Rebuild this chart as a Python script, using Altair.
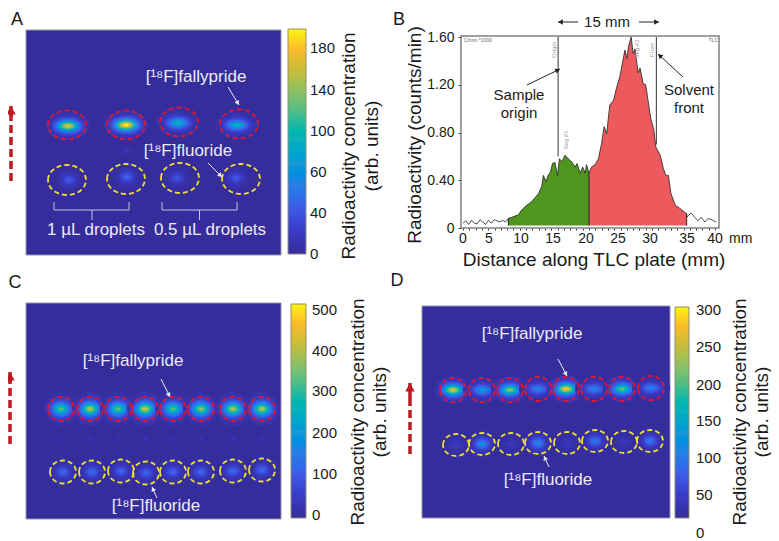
import math
import altair as alt
import pandas as pd

FONT = "Liberation Sans"
PARULA = ["#352d9c", "#3a3cc8", "#3f5ce8", "#2a7ee6", "#1a9ad8", "#10b0bc",
          "#35bc94", "#84c06c", "#c4bd3f", "#f9bb2c", "#f8f80f"]
BLOB_LEVELS = [.05, .12, .2, .3, .4, .5, .6, .7, .8, .9, 1.0]
BLOB_RADII = [1, .8, .68, .58, .5, .43, .37, .31, .25, .18, .1]

# --- panel B: TLC trace (mm, counts/min x 1000) ---
noise_left_x = [0, .45, .9, 1.35, 1.8, 2.25, 2.7, 3.15, 3.6, 4.05, 4.5, 4.95, 5.4, 5.85, 6.3, 6.75, 7.2]
noise_left_y = [.04, .06, .03, .065, .04, .035, .07, .05, .03, .065, .04, .07, .06, .05, .065, .05, .08]
green_x = [7.2, 8.8, 9.3, 10.1, 10.9, 12, 12.5, 12.75, 13.2, 13.5, 13.9, 14.2, 14.6, 15, 15.3, 15.7,
           16.2, 16.7, 17.25, 17.8, 18.1, 18.6, 19, 19.4, 19.6, 20]
green_y = [.08, .11, .15, .19, .22, .29, .35, .44, .39, .44, .47, .54, .55, .44, .58, .555,
           .61, .58, .555, .51, .54, .46, .51, .46, .53, .46]
red_x = [20, 20.4, 20.95, 21.5, 22, 22.4, 22.8, 23.3, 23.9, 24.4, 24.9, 25.4, 25.7, 26, 26.3, 26.7, 27, 27.3,
         27.8, 28.1, 28.6, 29, 29.4, 29.8, 30.3, 30.6, 31.3, 31.8, 32.2, 32.6, 33, 33.7, 34.4, 35.5]
red_y = [.46, .51, .53, .58, .71, .85, .79, 1.03, 1.07, 1.18, 1.27, 1.41, 1.49, 1.42, 1.53, 1.60, 1.46, 1.50,
         1.30, 1.34, 1.21, 1.20, 1.06, .92, .82, .68, .61, .50, .44, .44, .29, .19, .165, .12]
noise_right_x = [35.5, 36.2, 36.8, 37.3, 37.8, 38.4, 38.9, 39.4, 40.2]
noise_right_y = [.09, .125, .09, .06, .09, .05, .08, .07, .05]

# --- panel A droplets ---
a_red_x = [67, 126, 179, 239]
a_red_y = [125, 125, 122, 124]
a_yel_x = [67, 126, 180, 241]
a_yel_y = [180, 179, 178, 179]
a_hot_x = [68, 126, 178, 237]
a_hot_y = [126, 125, 123, 125]
a_hot_v = [165, 190, 95, 95]
a_cold_x = [69, 127, 177, 236]
a_cold_y = [180, 177, 178, 178]
a_cold_v = [38, 42, 34, 36]

# --- panel C droplets ---
c_red_x = [61, 90, 118, 145, 173, 201, 233, 262]
c_red_y = [409] * 8
c_yel_x = [63, 92, 121, 146, 173, 201, 233, 262]
c_yel_y = [472, 472, 471, 473, 472, 472, 471, 470]
c_hot_v = [330, 400, 340, 420, 330, 370, 400, 400]
c_cold_v = [120, 125, 115, 115, 115, 115, 125, 125]
c_ghost_v = [25, 30, 25, 35, 30, 30, 35, 30]

# --- panel D droplets ---
d_red_x = [453, 482, 510, 538, 566, 594, 622, 651]
d_red_y = [390, 390, 390, 389, 389, 389, 389, 388]
d_yel_x = [456, 482, 511, 538, 567, 595, 624, 650]
d_yel_y = [445, 444, 444, 443, 443, 441, 442, 441]
d_hot_v = [265, 125, 225, 100, 280, 100, 205, 95]
d_cold_v = [28, 110, 22, 100, 22, 85, 22, 85]

cx = alt.Scale(domain=[8, 771], range=[0, 763])
cy = alt.Scale(domain=[8, 540], range=[0, 532])
X = alt.X("x:Q", scale=cx, axis=None)
Y = alt.Y("y:Q", scale=cy, axis=None)


def color_scale(vmax):
    n = len(PARULA)
    return alt.Scale(domain=[vmax * i / (n - 1) for i in range(n)], range=PARULA, clamp=True)


def ellipse(ratio):
    return f"M-1,0A1,{ratio:.3f},0,1,1,1,0A1,{ratio:.3f},0,1,1,-1,0Z"


def rects(rows, **mark):
    df = pd.DataFrame(rows, columns=["x", "y", "x2", "y2"])
    return alt.Chart(df).mark_rect(**mark).encode(X, Y, x2="x2:Q", y2="y2:Q")


def image_bg(x0, y0, x1, y1, vmax):
    df = pd.DataFrame([dict(x=x0, y=y0, x2=x1, y2=y1, v=0)])
    return alt.Chart(df).mark_rect(stroke="#8f92a8", strokeWidth=1).encode(
        X, Y, x2="x2:Q", y2="y2:Q",
        fill=alt.Fill("v:Q", scale=color_scale(vmax), legend=None))


def blobs(xs, ys, vs, w, h, vmax):
    rows = []
    for px, py, v in zip(xs, ys, vs):
        for lv, rd in zip(BLOB_LEVELS, BLOB_RADII):
            # inner contours flatten horizontally, as in the hot spots
            ratio = (h / w) * (0.6 + 0.4 * rd)
            rows.append(dict(x=px, y=py, v=v * lv, area=(w * rd) ** 2, path=ellipse(ratio)))
    df = pd.DataFrame(rows)
    return alt.Chart(df).mark_point(filled=True, opacity=1, strokeWidth=0).encode(
        X, Y,
        fill=alt.Fill("v:Q", scale=color_scale(vmax), legend=None),
        shape=alt.Shape("path:N", scale=None),
        size=alt.Size("area:Q", scale=None),
    )


def rings(xs, ys, w, h, color):
    df = pd.DataFrame(dict(x=xs, y=ys))
    df["area"] = w * w
    df["path"] = ellipse(h / w)
    return alt.Chart(df).mark_point(filled=False, opacity=1, stroke=color, strokeWidth=1.8,
                                    strokeDash=[5, 3]).encode(
        X, Y, shape=alt.Shape("path:N", scale=None), size=alt.Size("area:Q", scale=None))


def colorbar(x0, x1, y0, y1, vmax):
    n = 80
    rows = []
    for i in range(n):
        rows.append(dict(x=x0, x2=x1, v=vmax * i / n, v2=vmax * min(i + 2, n) / n))
    df = pd.DataFrame(rows)
    ys = alt.Scale(domain=[0, vmax], range=[y1 - 8, y0 - 8])
    bar = alt.Chart(df).mark_rect().encode(
        X, x2="x2:Q",
        y=alt.Y("v:Q", scale=ys, axis=None), y2="v2:Q",
        fill=alt.Fill("v:Q", scale=color_scale(vmax), legend=None))
    frame = rects([(x0, y0, x1, y1)], fill=None, stroke="#8f8f70", strokeWidth=1)
    return [bar, frame]


def texts(rows, size, color="#1a1a1a", angle=0, align="center"):
    df = pd.DataFrame(rows, columns=["x", "y", "t"])
    return alt.Chart(df).mark_text(font=FONT, fontSize=size, color=color, angle=angle,
                                   align=align, baseline="middle").encode(X, Y, text="t:N")


def lines(rows, color, width, dash=None):
    df = pd.DataFrame(rows, columns=["x", "y", "x2", "y2"])
    kw = dict(strokeDash=dash) if dash else {}
    return alt.Chart(df).mark_rule(color=color, strokeWidth=width, **kw).encode(X, Y, x2="x2:Q", y2="y2:Q")


def arrows(rows, color, width, head):
    out = [lines(rows, color, width)]
    pts = []
    for x0, y0, x1, y1 in rows:
        a = math.atan2(x1 - x0, -(y1 - y0))
        back = math.sqrt(head) * 0.45
        pts.append(dict(x=x1 - back * math.sin(a), y=y1 + back * math.cos(a),
                        ang=(math.degrees(a) + 360) % 360))
    out.append(alt.Chart(pd.DataFrame(pts)).mark_point(
        filled=True, opacity=1, color=color, shape="triangle-up", size=head).encode(
        X, Y, angle=alt.Angle("ang:Q", scale=None)))
    return out


WHITE = "#eceaf6"
DARKRED = "#bd1a22"
layers = []

# ---------- panel A ----------
layers += [image_bg(26, 30, 281, 255, 190)]
layers += [blobs([127], [151], [12], 20, 16, 190)]
layers += [blobs(a_cold_x, a_cold_y, a_cold_v, 30, 30, 190)]
layers += [blobs(a_hot_x, a_hot_y, a_hot_v, 44, 28, 190)]
layers += [rings(a_red_x, a_red_y, 38, 29, "#e2162e"), rings(a_yel_x, a_yel_y, 38, 30, "#f0e030")]
layers += colorbar(288, 306, 29, 254, 190)
layers += [texts([(310, 254, "0"), (310, 213, "40"), (310, 172, "60"), (310, 131, "100"),
                  (310, 90, "140"), (310, 48, "180")], 15, align="left")]
layers += [texts([(349, 146, "Radioactivity concentration"), (372, 146, "(arb. units)")], 19, angle=270)]
layers += [texts([(196, 77, "[¹⁸F]fallypride"), (188, 151, "[¹⁸F]fluoride"),
                  (96, 230, "1 µL droplets"), (210, 230, "0.5 µL droplets")], 17, color=WHITE)]
layers += arrows([(228, 87, 239, 105), (208, 163, 222, 177)], WHITE, 1, 25)
layers += [lines([(54, 202, 54, 210), (54, 210, 129, 210), (129, 202, 129, 210), (92, 210, 92, 220),
                  (162, 202, 162, 210), (162, 210, 237, 210), (237, 202, 237, 210), (199.5, 210, 199.5, 220)],
                 "#c4c4e4", 1)]
layers += [lines([(11, 181, 11, 114)], DARKRED, 3.5, dash=[8, 4])]
layers += arrows([(11, 116, 11, 106)], DARKRED, 3.5, 90)
layers += [texts([(17, 20, "A"), (399, 20, "B"), (15, 283, "C"), (397, 281, "D")], 18)]

# ---------- panel B ----------
bx = alt.Scale(domain=[0, 40], range=[455, 707])
by = alt.Scale(domain=[0, 1.6], range=[220, 29])
BX = alt.X("mm:Q", scale=bx, axis=None)
BY = alt.Y("cpm:Q", scale=by, axis=None)


def area(xs, ys, color):
    df = pd.DataFrame(dict(mm=xs, cpm=ys, base=[0.02] * len(xs)))
    return alt.Chart(df).mark_area(color=color, opacity=1).encode(BX, BY, y2="base:Q")


all_x = noise_left_x + green_x + red_x[1:] + noise_right_x
all_y = noise_left_y + green_y + red_y[1:] + noise_right_y
trace = alt.Chart(pd.DataFrame(dict(mm=all_x, cpm=all_y))).mark_line(color="#222222", strokeWidth=0.8).encode(BX, BY)
layers += [area(green_x, green_y, "#4f961f"), area(red_x, red_y, "#ec5a5e"), trace]
edges = pd.DataFrame(dict(mm=[7.2, 20, 35.5], cpm=[.08, .46, .12], base=[.02, .02, .02]))
layers += [alt.Chart(edges).mark_rule(color="#222222", strokeWidth=1).encode(BX, BY, y2="base:Q")]
layers += [rects([(461, 36, 719, 228)], fill=None, stroke="#808080", strokeWidth=1.5)]
layers += [alt.Chart(pd.DataFrame(dict(mm=[15.1, 30.7], cpm=[.6, .7], top=[1.6, 1.6]))).mark_rule(
    color="#555555", strokeWidth=1.2).encode(BX, BY, y2="top:Q")]

tick_x = alt.Chart(pd.DataFrame(dict(mm=[0, 40], cpm=[0, 0]))).mark_point(opacity=0).encode(
    x=alt.X("mm:Q", scale=bx, axis=alt.Axis(orient="bottom", offset=-312, values=list(range(0, 41)),
                                            labels=False, domain=False, grid=False, title=None,
                                            tickSize=2, tickColor="#333333")),
    y=alt.Y("cpm:Q", scale=by, axis=alt.Axis(orient="left", offset=-453, values=[0, .4, .8, 1.2, 1.6],
                                             labelExpr="datum.value==0?'0':format(datum.value,'.2f')",
                                             labelFont=FONT, labelFontSize=14, labelColor="#1a1a1a",
                                             labelPadding=4, domain=False, grid=False, title=None,
                                             tickSize=3, tickColor="#333333")))
layers += [tick_x]

layers += [texts([(463, 239, "0"), (489, 239, "5"), (521, 239, "10"), (553, 239, "15"), (586, 239, "20"),
                  (618, 239, "25"), (650, 239, "30"), (687, 239, "35"), (715, 239, "40")], 14)]
layers += [texts([(729, 239, "mm")], 14, align="left")]
layers += [texts([(594, 260, "Distance along TLC plate (mm)")], 19)]
layers += [texts([(415, 135, "Radioactivity (counts/min)")], 19, angle=270)]
layers += [texts([(607, 22, "15 mm"), (519, 95, "Sample"), (519, 113, "origin"),
                  (689, 90, "Solvent"), (689, 108, "front")], 15)]
layers += arrows([(578, 22, 558, 22), (639, 22, 659, 22), (527, 85, 560, 69), (683, 77, 658, 54)], "#222222", 1, 30)
layers += [texts([(464, 40, "C/mm *1000")], 5, color="#666666", align="left"),
           texts([(718, 40, "TLC")], 5, color="#666666", align="right"),
           texts([(554, 50, "Origin"), (566, 140, "Seg #1"), (637, 49, "Seg #2"), (652, 50, "Front")],
                 6, color="#999999", angle=270)]

# ---------- panel C ----------
layers += [image_bg(26, 303, 281, 519, 510)]
layers += [blobs(c_red_x, [438] * 8, c_ghost_v, 14, 10, 510)]
layers += [blobs(c_yel_x, c_yel_y, c_cold_v, 30, 30, 510)]
layers += [blobs(c_red_x, c_red_y, c_hot_v, 36, 34, 510)]
layers += [rings(c_red_x, c_red_y, 26, 24, "#e2162e"), rings(c_yel_x, c_yel_y, 26, 23, "#f0e030")]
layers += colorbar(291, 306, 304, 518, 510)
layers += [texts([(312, 515, "0"), (312, 474, "100"), (312, 433, "200"), (312, 391, "300"),
                  (312, 351, "400"), (312, 310, "500")], 15, align="left")]
layers += [texts([(358, 412, "Radioactivity concentration"), (380, 412, "(arb. units)")], 19, angle=270)]
layers += [texts([(133, 361, "[¹⁸F]fallypride"), (156, 506, "[¹⁸F]fluoride")], 17, color=WHITE)]
layers += arrows([(161, 379, 170, 397), (157, 498, 152, 487)], WHITE, 1, 25)
layers += [lines([(10, 444, 10, 380)], DARKRED, 3.5, dash=[8, 4])]
layers += arrows([(10, 382, 10, 372)], DARKRED, 3.5, 90)

# ---------- panel D ----------
layers += [image_bg(422, 306, 670, 518, 305)]
layers += [blobs(d_yel_x, d_yel_y, d_cold_v, 30, 30, 305)]
layers += [blobs(d_red_x, d_red_y, d_hot_v, 38, 28, 305)]
layers += [rings(d_red_x, d_red_y, 26, 24, "#e2162e"), rings(d_yel_x, d_yel_y, 26, 22, "#f0e030")]
layers += colorbar(675, 689, 307, 518, 305)
layers += [texts([(696, 533, "0"), (696, 495, "50"), (696, 458, "100"), (696, 421, "150"),
                  (696, 385, "200"), (696, 347, "250"), (696, 310, "300")], 15, align="left")]
layers += [texts([(740, 412, "Radioactivity concentration"), (762, 412, "(arb. units)")], 19, angle=270)]
layers += [texts([(532, 334, "[¹⁸F]fallypride"), (548, 480, "[¹⁸F]fluoride")], 17, color=WHITE)]
layers += arrows([(558, 359, 567, 376), (549, 467, 544, 456)], WHITE, 1, 25)
layers += [lines([(410, 454, 410, 396)], DARKRED, 3.5, dash=[8, 4])]
layers += arrows([(410, 398, 410, 383)], DARKRED, 3.5, 90)

chart = alt.layer(*layers).resolve_scale(x="independent", y="independent", fill="independent").properties(
    width=763, height=532, autosize=alt.AutoSizeParams(type="none"), padding=0, background="white"
).configure_view(stroke=None)

chart.save("out.html", embed_options={"renderer": "svg", "actions": False})
